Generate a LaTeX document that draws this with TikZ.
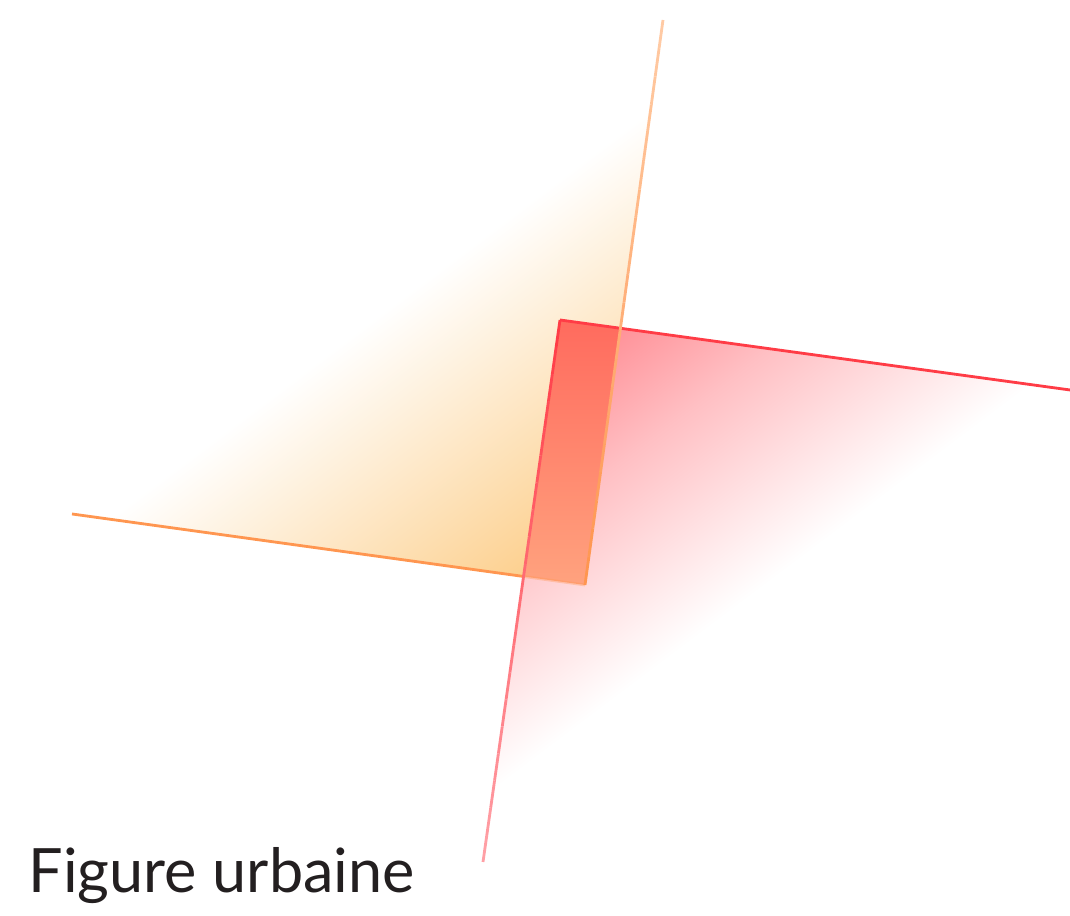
\documentclass[tikz,border=0pt]{standalone}
\usepackage{fontspec}
\setmainfont{Lato}
\usepackage{tikz}
\usetikzlibrary{calc}
\definecolor{urbOrange}{HTML}{FF9650}
\definecolor{urbOrangePale}{HTML}{FFCDA8}
\definecolor{urbRed}{HTML}{FF3C46}
\definecolor{urbRedPale}{HTML}{FFA4AA}
\definecolor{orangeFill}{HTML}{FCC97E}
\definecolor{redFill}{HTML}{FF8088}
\definecolor{overlapTop}{HTML}{FF6B5E}
\definecolor{overlapBottom}{HTML}{FFA27E}
\definecolor{captionGrey}{HTML}{231F20}
\pgfdeclareverticalshading{orangeFade}{7.5cm}{color(0cm)=(orangeFill); color(1.5cm)=(orangeFill!55!white); color(3.4cm)=(white)}
\pgfdeclareverticalshading{redFade}{7.5cm}{color(0cm)=(white); color(1.85cm)=(redFill!50!white); color(3.35cm)=(redFill)}

\begin{document}
\begin{tikzpicture}[edge/.style={line width=0.8pt},fade/.style={inner sep=0pt,outer sep=0pt,rotate=37}]
    \useasboundingbox (0,0) rectangle (10.70,9.16);
    % orange bracket
    \coordinate (O) at (5.85,3.31);
    \coordinate (A) at (0.72,4.02);
    \coordinate (B) at (6.63,8.96);
    % red bracket
    \coordinate (R) at (5.60,5.96);
    \coordinate (C) at (10.70,5.26);
    \coordinate (D) at (4.83,0.54);
    \coordinate (P2) at (intersection of R--C and O--B);
    \coordinate (P4) at (intersection of O--A and R--D);
    % orange fade
    \begin{scope}
      \clip (O) -- (A) -- ($(A)+(B)-(O)$) -- (B) -- cycle;
      \node[fade,anchor=south] (orangeShade) at (O) {\pgfuseshading{orangeFade}};
    \end{scope}
    % red fade
    \begin{scope}
      \clip (R) -- (C) -- ($(C)+(D)-(R)$) -- (D) -- cycle;
      \node[fade,anchor=north] (redShade) at (R) {\pgfuseshading{redFade}};
    \end{scope}
    \shade[top color=overlapTop,bottom color=overlapBottom] (R) -- (P2) -- (O) -- (P4) -- cycle;
    % the four arms
    \draw[edge,urbOrange] (A) -- (P4);
    \draw[edge,urbOrange,opacity=0.35] (P4) -- (O);
    \draw[edge,urbRed] (R) -- (C);
    \foreach \i in {0,...,19} {
      \pgfmathsetmacro\ta{\i/20}
      \pgfmathsetmacro\tb{(\i+1)/20}
      \pgfmathsetmacro\mix{100-5*\i}
      \draw[edge,draw=urbOrange!\mix!urbOrangePale] ($(O)!\ta!(B)$) -- ($(O)!\tb!(B)$);
      \draw[edge,draw=urbRed!\mix!urbRedPale] ($(R)!\ta!(D)$) -- ($(R)!\tb!(D)$);
    }
    \node[anchor=base west,inner sep=0pt,text=captionGrey,font=\fontsize{17.4}{20}\selectfont] (caption) at (0.28,0.23) {Figure urbaine};
\end{tikzpicture}
\end{document}
